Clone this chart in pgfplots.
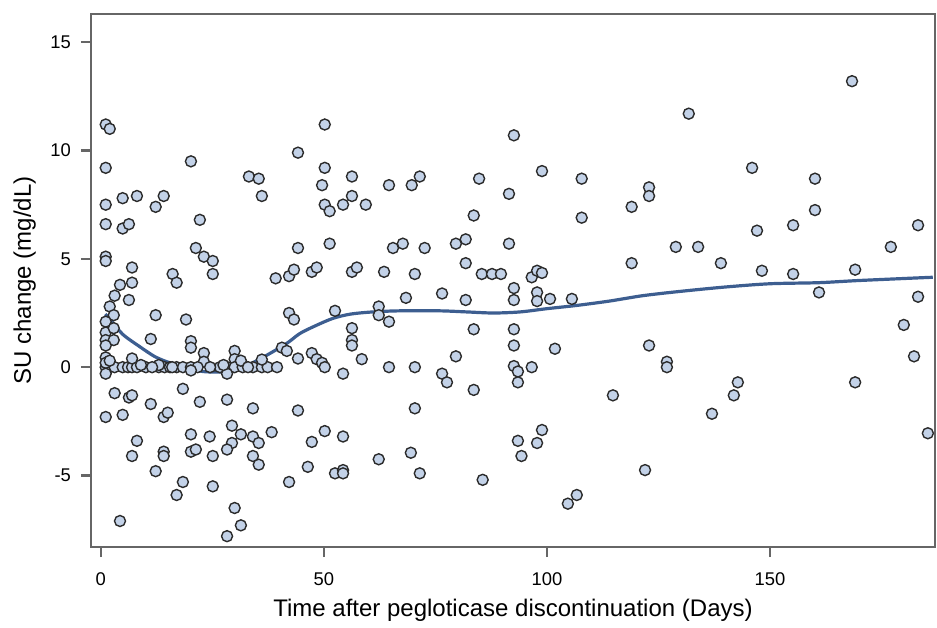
\documentclass[border=0pt]{standalone}
\usepackage{pgfplots}
\pgfplotsset{compat=1.18}
\usepackage{fontspec}
\setmainfont{Liberation Sans}

\definecolor{ptfill}{HTML}{C3D2E8}
\definecolor{ptedge}{HTML}{2B2B2B}
\definecolor{loess}{HTML}{3D5E90}
\definecolor{axisgray}{HTML}{666666}

\pgfplotstableread{
x y
1.1 11.2
2.0 11.0
1.1 9.2
20.2 9.5
33.2 8.8
35.4 8.7
36.1 7.9
44.2 9.9
1.1 7.5
4.9 7.8
8.1 7.9
12.3 7.4
14.1 7.9
1.1 6.6
4.9 6.4
6.3 6.6
22.2 6.8
21.3 5.5
23.1 5.1
25.1 4.9
25.1 4.3
44.2 5.5
1.1 5.1
1.1 4.9
7.0 4.6
16.1 4.3
17.0 3.9
4.3 3.8
7.0 3.9
39.2 4.1
42.2 4.2
43.3 4.5
3.1 3.3
6.3 3.1
2.0 2.8
2.9 2.4
1.1 2.1
1.1 1.6
2.9 1.8
1.1 1.25
2.9 1.25
1.1 1.0
12.3 2.4
19.1 2.2
11.2 1.3
20.2 1.2
20.2 0.9
23.1 0.65
23.1 0.25
30.0 0.75
30.0 0.37
42.2 2.5
43.3 2.2
40.6 0.9
41.7 0.75
44.2 0.4
1.1 0
2.0 0
3.1 0
4.9 0
6.1 0
7.0 0
8.1 0
10.1 0
13.0 0
14.3 0
15.5 0
17.0 0
18.4 0
20.2 0
21.7 0
26.7 0
28.3 0
30.0 0
31.8 0
34.1 0
36.1 0
37.4 0
39.5 0
1.1 0.45
1.1 0.2
1.1 -0.3
2.0 0.3
7.0 0.4
13.0 0.1
31.4 0.3
36.1 0.35
28.3 -0.3
20.2 -0.15
9.0 0.1
11.5 0
16.0 0
24.5 0
27.5 0.1
33.0 0
3.1 -1.2
6.3 -1.4
7.0 -1.3
1.1 -2.3
4.9 -2.2
11.2 -1.7
14.1 -2.3
15.0 -2.1
18.4 -1.0
22.2 -1.6
28.3 -1.5
34.1 -1.9
44.2 -2.0
8.1 -3.4
7.0 -4.1
14.1 -3.9
14.1 -4.1
20.2 -3.1
20.2 -3.9
21.3 -3.8
24.4 -3.2
25.1 -4.1
29.4 -2.7
31.4 -3.1
29.4 -3.5
28.3 -3.8
34.1 -3.2
35.4 -3.5
34.1 -4.1
35.4 -4.5
38.3 -3.0
12.3 -4.8
18.4 -5.3
17.0 -5.9
25.1 -5.5
42.2 -5.3
4.3 -7.1
30.0 -6.5
31.4 -7.3
28.3 -7.8
50.2 11.2
92.6 10.7
50.2 9.2
49.6 8.4
56.3 8.8
64.6 8.4
69.7 8.4
71.5 8.8
84.8 8.7
91.5 8.0
50.2 7.5
51.3 7.2
54.3 7.5
56.3 7.9
59.4 7.5
83.6 7.0
51.3 5.7
65.5 5.5
67.7 5.7
72.6 5.5
79.6 5.7
81.8 5.9
91.5 5.7
47.3 4.4
48.4 4.6
56.3 4.4
57.4 4.6
63.5 4.4
70.4 4.3
81.8 4.8
85.4 4.3
87.7 4.3
89.7 4.3
92.6 3.65
92.6 3.1
68.4 3.2
76.5 3.4
81.8 3.1
52.5 2.6
62.3 2.8
62.3 2.4
64.6 2.1
56.3 1.8
83.6 1.75
92.6 1.75
56.3 1.25
56.3 1.0
47.3 0.65
48.4 0.37
49.6 0.2
50.2 0
54.3 -0.3
58.5 0.37
64.6 0
70.4 0
79.6 0.5
76.5 -0.3
77.6 -0.7
83.6 -1.05
92.6 1.0
92.6 0.05
93.5 -0.2
93.5 -0.7
70.4 -1.9
50.2 -2.95
47.3 -3.45
54.3 -3.2
93.5 -3.4
46.4 -4.6
52.5 -4.9
54.3 -4.75
54.3 -4.9
62.3 -4.25
69.5 -3.95
71.5 -4.9
85.6 -5.2
94.3 -4.1
131.8 11.7
98.9 9.05
107.8 8.7
122.9 8.3
122.9 7.9
119.0 7.4
107.8 6.9
128.9 5.55
133.9 5.55
139.0 4.8
119.0 4.8
96.6 4.15
97.8 4.45
98.9 4.35
97.8 3.45
97.8 3.05
100.7 3.15
105.6 3.15
101.8 0.85
122.9 1.0
126.9 0.25
126.9 0
96.6 0
114.8 -1.3
137.0 -2.15
142.8 -0.7
141.9 -1.3
98.9 -2.9
97.8 -3.5
122.0 -4.75
106.7 -5.9
104.7 -6.3
168.4 13.2
146.0 9.2
160.1 8.7
160.1 7.25
155.2 6.55
147.1 6.3
183.2 6.55
177.1 5.55
148.2 4.45
155.2 4.3
169.1 4.5
161.0 3.45
183.2 3.25
180.0 1.95
182.3 0.5
169.1 -0.7
185.4 -3.05
}\sudata

\pgfplotstableread{
x y
1 2.45
2.5 2.1
5 1.5
8.7 0.95
12 0.5
14.8 0.25
18 0.05
22.9 -0.2
28.3 -0.2
31.8 0
34.5 0.25
37.2 0.55
41.7 1.1
44.6 1.55
48 1.9
52 2.25
56 2.45
61 2.55
67 2.6
76 2.6
82 2.55
88 2.5
94 2.55
100 2.7
106.7 2.85
114 3.05
121.5 3.3
130 3.5
140 3.7
150 3.85
161 3.9
170 4.0
186.5 4.15
}\sucurve

\begin{document}
\begin{tikzpicture}
\begin{axis}[
    scale only axis,
    width=422pt,
    height=266.5pt,
    xmin=-2.2, xmax=187,
    ymin=-8.3, ymax=16.3,
    xtick={0,50,100,150},
    ytick={-5,0,5,10,15},
    axis line style={draw=axisgray, line width=1.2pt},
    every tick/.style={draw=axisgray, line width=1.1pt},
    xtick style={draw=axisgray, line width=1.1pt},
    ytick style={draw=axisgray, line width=1.1pt},
    major tick length=5pt,
    xtick align=outside,
    ytick align=outside,
    xtick pos=left,
    ytick pos=left,
    ticklabel style={font=\fontsize{9.2}{10}\selectfont},
    yticklabel style={xshift=-1.5pt},
    xticklabel style={yshift=-4.5pt},
    /pgf/number format/assume math mode=true,
    xlabel={Time after pegloticase discontinuation (Days)},
    ylabel={SU change (mg/dL)},
    label style={font=\fontsize{12}{14}\selectfont},
    xlabel style={yshift=0.5pt},
    ylabel style={yshift=0.5pt},
    clip=true,
]
\addplot[only marks, mark=*, mark size=2.75pt,
    mark options={fill=ptfill, draw=ptedge, line width=0.7pt}]
    table[x=x, y=y]{\sudata};
\addplot[loess, line width=1.6pt, smooth, no marks] table[x=x, y=y]{\sucurve};
\end{axis}
\path ([yshift=7pt]current axis.north);
\path ([xshift=1pt]current axis.east);
\path ([xshift=-45.5pt]current axis.west);
\path ([yshift=-36.5pt]current axis.south);
\end{tikzpicture}
\end{document}
